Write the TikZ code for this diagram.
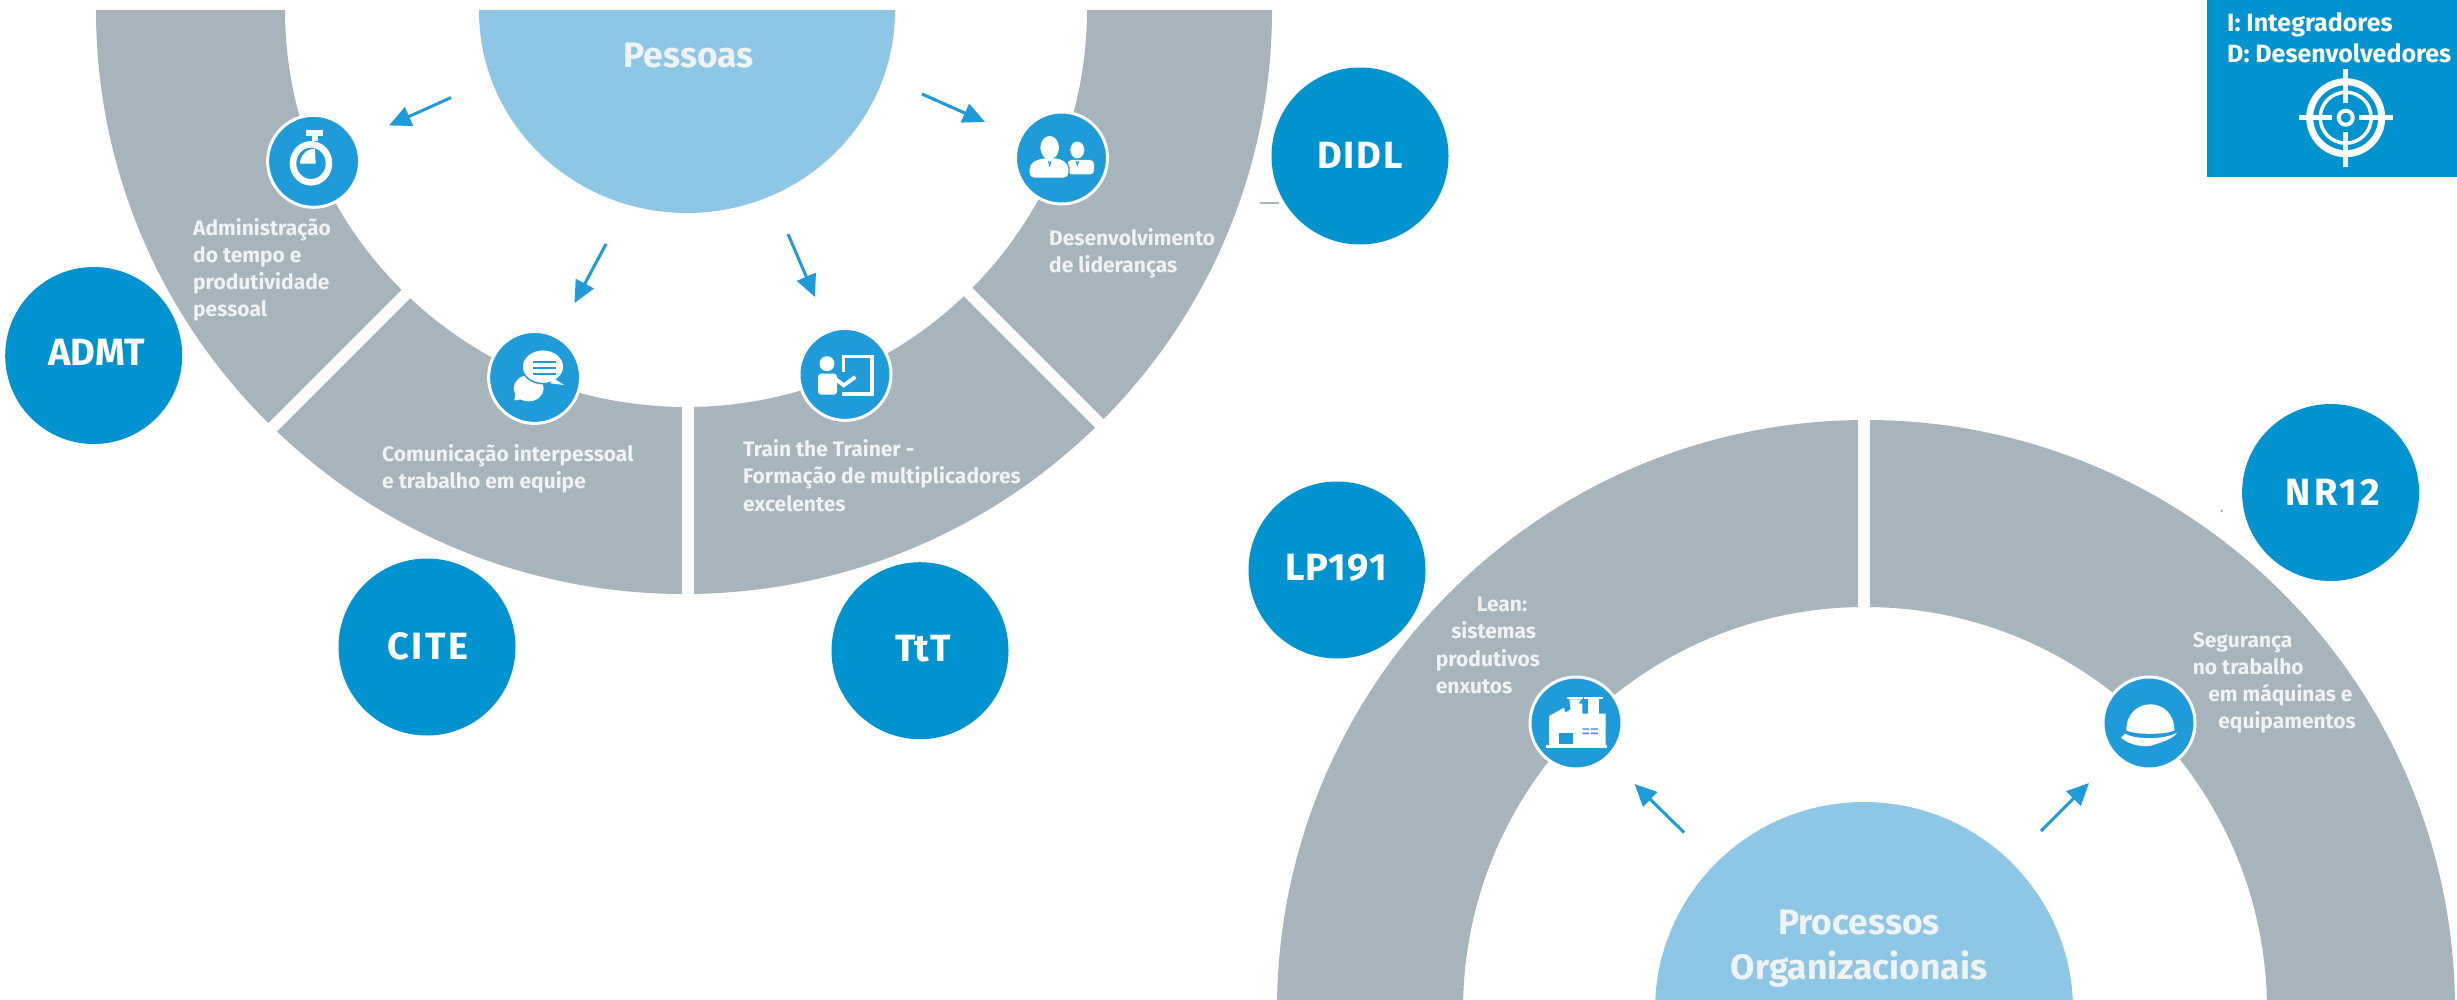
\documentclass[tikz,border=0pt]{standalone}
\usepackage{fontspec}
\setmainfont{Fira Sans}
\usetikzlibrary{arrows.meta}
\definecolor{ringgray}{HTML}{A7B4BC}
\definecolor{hubblue}{HTML}{8EC7E5}
\definecolor{bigblue}{HTML}{0093D0}
\definecolor{iconblue}{HTML}{209BD9}
\definecolor{labelwhite}{HTML}{EFF3F5}
\tikzset{
  bigcircle/.style={circle,fill=bigblue,minimum size=177pt,inner sep=0pt},
  bigtext/.style={inner sep=0pt,text=white,font=\fontsize{38}{40}\selectfont\bfseries},
  iconcircle/.style={circle,fill=iconblue,draw=white,line width=3pt,minimum size=92pt,inner sep=0pt},
  ringlabel/.style={anchor=north west,inner sep=0pt,align=left,text=labelwhite,font=\fontsize{21}{27.2}\selectfont\bfseries},
  hublabel/.style={inner sep=0pt,align=center,text=labelwhite,font=\fontsize{35.4}{45}\selectfont\bfseries},
  arrowline/.style={draw=iconblue,line width=3pt,-{Triangle[length=22pt,width=20pt]}},
  gapline/.style={draw=white,line width=12pt},
  iconframe/.style={shift={#1},x=.3333pt,y=-.3333pt},
}
\begin{document}
\begin{tikzpicture}[x=1pt,y=-1pt]
\useasboundingbox (0,0) rectangle (2457,999);
\fill[white] (0,0) rectangle (2457,999);
% top ring
\begin{scope}
\clip (0,10) rectangle (1400,700);
\fill[ringgray,even odd rule] (684,10) ellipse [x radius=588pt,y radius=584pt] (686,10) ellipse [x radius=401pt,y radius=397pt];
\fill[hubblue] (687,11) ellipse [x radius=208pt,y radius=202pt];
\end{scope}
\draw[gapline] (412,288) -- (268,432);
\draw[gapline] (687.5,398) -- (687.5,602);
\draw[gapline] (963,287) -- (1104,428);
% bottom ring
\begin{scope}
\clip (1250,400) rectangle (2457,999);
\fill[ringgray,even odd rule] (1866,1010) ellipse [x radius=589pt,y radius=590pt] (1865,1010) ellipse [x radius=402pt,y radius=403pt];
\fill[hubblue] (1864,1010) ellipse [x radius=209pt,y radius=208pt];
\end{scope}
\draw[gapline] (1863.5,412) -- (1863.5,615);
% faint marks
\draw[ringgray,line width=1.5pt] (1260,203) -- (1279,203);
\fill[ringgray] (2221.7,510.8) circle (1.5pt);
% hub labels
\node[hublabel] (pessoas) at (688.7,56) {Pessoas};
\node[hublabel] (processos) at (1859,949) {Processos\\Organizacionais};
% ring labels
\node[ringlabel] (admlabel) at (193,218) {Administração\\do tempo e\\produtividade\\pessoal};
\node[ringlabel] (comlabel) at (382,444.5) {Comunicação interpessoal\\e trabalho em equipe};
\node[ringlabel] (trainlabel) at (743,439.5) {Train the Trainer -\\Formação de multiplicadores\\excelentes};
\node[ringlabel] (lidlabel) at (1049,228.5) {Desenvolvimento\\de lideranças};
\node[ringlabel] (leanlabel) at (1435.6,597) {\hspace*{41pt}Lean:\\\hspace*{15.5pt}sistemas\\produtivos\\enxutos};
\node[ringlabel] (seglabel) at (2192.6,632) {Segurança\\no trabalho\\\hspace*{15.5pt}em máquinas e\\\hspace*{25.5pt}equipamentos};
% big circles
\node[bigcircle] (admt) at (93.7,355.5) {};
\node[bigtext] (admttext) at (96.6,352.7) {ADMT};
\node[bigcircle] (cite) at (427,647) {};
\node[bigtext] (citetext) at (428,646) {\addfontfeatures{LetterSpace=6}CITE};
\node[bigcircle] (ttt) at (920,650.7) {};
\node[bigtext] (ttttext) at (923,649) {\addfontfeatures{LetterSpace=1.3}TtT};
\node[bigcircle] (didl) at (1360,156) {};
\node[bigtext] (didltext) at (1360,155) {\addfontfeatures{LetterSpace=4.6}DIDL};
\node[bigcircle] (lp) at (1337,570) {};
\node[bigtext] (lptext) at (1336,568) {\addfontfeatures{LetterSpace=2.9}LP191};
\node[bigcircle] (nr) at (2330.6,492.5) {};
\node[bigtext] (nrtext) at (2333,492) {\addfontfeatures{LetterSpace=8}NR12};
% icon circles
\node[iconcircle] (clock) at (313.6,161.3) {};
\node[iconcircle] (chat) at (534.6,377.4) {};
\node[iconcircle] (board) at (845,374.4) {};
\node[iconcircle] (leaders) at (1061.5,158) {};
\node[iconcircle] (factory) at (1576,723) {};
\node[iconcircle] (helmet) at (2149,723) {};
% arrows
\coordinate (a1s) at (451,97.6); \coordinate (a1e) at (389,125.5);
\coordinate (a2s) at (606,244); \coordinate (a2e) at (574.5,303);
\coordinate (a3s) at (788,234); \coordinate (a3e) at (815,297);
\coordinate (a4s) at (922,94); \coordinate (a4e) at (985,122);
\coordinate (a5s) at (1684,832.5); \coordinate (a5e) at (1634.6,784);
\coordinate (a6s) at (2041,831); \coordinate (a6e) at (2089,783);
\draw[arrowline] (a1s) -- (a1e);
\draw[arrowline] (a2s) -- (a2e);
\draw[arrowline] (a3s) -- (a3e);
\draw[arrowline] (a4s) -- (a4e);
\draw[arrowline] (a5s) -- (a5e);
\draw[arrowline] (a6s) -- (a6e);
% stopwatch
\begin{scope}[iconframe={(260,108)}]
\fill[white] (138,65) rectangle (190,85);
\fill[white] (155,85) rectangle (175,100);
\draw[white,line width=6.5pt] (153,166) ellipse [x radius=18pt,y radius=19pt];
\fill[white] (167,167) -- (120,167) arc[start angle=180,end angle=90,radius=15pt] -- cycle;
\end{scope}
% chat
\begin{scope}[iconframe={(482,325)}]
\fill[white] (140,190) ellipse [x radius=15pt,y radius=13pt];
\fill[white] (100,205) -- (97,226) -- (125,222) -- cycle;
\fill[white,draw=iconblue,line width=1.5pt] (183,125) ellipse [x radius=21pt,y radius=17pt];
\fill[white] (215,160) -- (246,180) -- (205,175) -- cycle;
\draw[iconblue,line width=2pt] (153,110) -- (222,110) (153,128) -- (222,128) (153,148) -- (222,148);
\end{scope}
% trainer
\begin{scope}[iconframe={(792,322)}]
\fill[white] (105,125) circle (7.5pt);
\fill[white,rounded corners=3pt] (78,218) -- (78,155) -- (135,155) -- (135,218) -- cycle;
\draw[white,line width=3.6pt] (155,150) -- (155,104) -- (240,104) -- (240,216) -- (150,216);
\draw[white,line width=3.8pt] (130,170) -- (155,190) -- (190,165);
\end{scope}
% leaders
\begin{scope}[iconframe={(1009,105)}]
\fill[white] (205,135) ellipse [x radius=7pt,y radius=8.5pt];
\fill[white,rounded corners=4pt] (175,208) -- (175,165) -- (255,165) -- (255,208) -- cycle;
\fill[white,draw=iconblue,line width=1.2pt,rounded corners=5pt] (60,220) -- (60,175) -- (95,158) -- (150,158) -- (180,175) -- (180,220) -- cycle;
\fill[white] (122,128) ellipse [x radius=9.3pt,y radius=11.7pt];
\draw[iconblue,line width=1pt] (118,168) -- (122,182) -- (126,168);
\draw[iconblue,line width=1pt] (201,168) -- (205,180) -- (209,168);
\end{scope}
% factory
\begin{scope}[iconframe={(1524,671)}]
\fill[white] (65,222) rectangle (250,230);
\fill[white] (75,222) -- (75,135) -- (120,110) -- (124,125) -- (165,98) -- (175,98) -- (175,128) -- (245,128) -- (245,222) -- cycle;
\fill[white] (130,78) rectangle (178,85);
\fill[white] (136,85) -- (172,85) -- (158,108) -- (140,115) -- cycle;
\fill[white] (180,78) rectangle (238,85);
\fill[white] (193,85) rectangle (225,128);
\fill[iconblue] (105,185) rectangle (147,218);
\fill[iconblue] (175,172) rectangle (195,176) (200,172) rectangle (222,176) (175,185) rectangle (195,189) (200,185) rectangle (222,189);
\end{scope}
% helmet
\begin{scope}[iconframe={(2097,671)}]
\fill[white] (88,178) .. controls (88,125) and (125,100) .. (160,100) .. controls (195,100) and (232,125) .. (232,178) .. controls (210,192) and (110,192) .. cycle;
\fill[white] (72,200) -- (85,188) .. controls (110,205) and (200,208) .. (240,185) .. controls (232,200) and (200,212) .. (175,220) .. controls (150,232) and (100,225) .. cycle;
\end{scope}
% target box
\fill[bigblue] (2207,0) rectangle (2457,177);
\node[inner sep=0pt,anchor=north west,align=left,text=white,font=\fontsize{25}{31.7}\selectfont\bfseries] (legend) at (2227,12) {I: Integradores\\D: Desenvolvedores};
\coordinate (tg) at (2345.7,117.7);
\draw[white,line width=7pt] (tg) circle (36pt);
\draw[white,line width=3.5pt] (tg) circle (25.5pt);
\draw[white,line width=4pt] (tg) circle (7pt);
\draw[white,line width=4.5pt] (2299.3,117.7) -- (2332,117.7) (2359,117.7) -- (2392.6,117.7) (2345.7,69) -- (2345.7,103) (2345.7,132) -- (2345.7,167);
\end{tikzpicture}
\end{document}
